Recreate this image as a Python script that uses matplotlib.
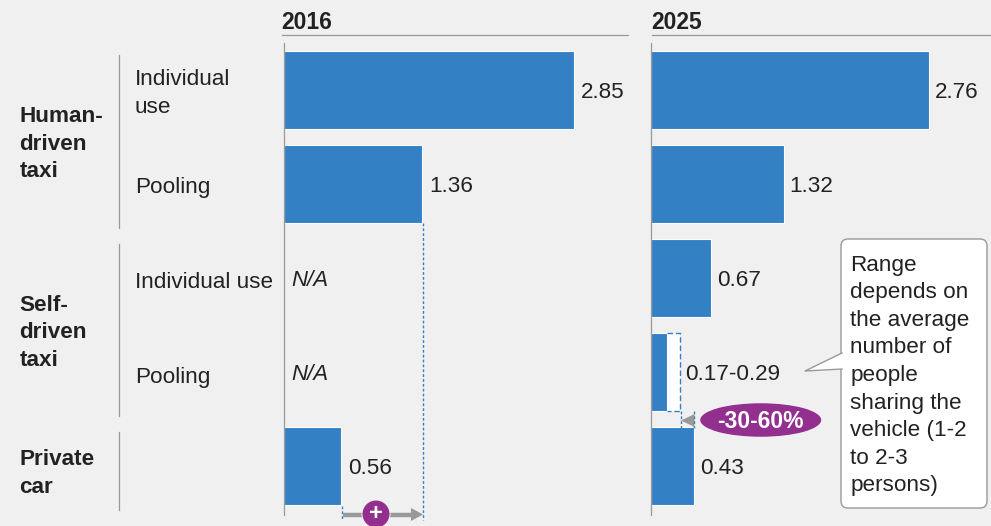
import matplotlib
matplotlib.use('Agg')
import matplotlib.pyplot as plt
from matplotlib.patches import Ellipse, FancyBboxPatch, Polygon, Circle

plt.rcParams['font.family'] = ['Liberation Sans', 'DejaVu Sans']

# data
rows = [0, 1, 2, 3, 4]
values_2016 = [2.85, 1.36, None, None, 0.56]
# the 0.67 bar is drawn shorter than its label in the original, about 0.60
values_2025 = [2.76, 1.32, 0.60, 0.16, 0.43]
range_high_2025 = 0.29
labels_2016 = ['2.85', '1.36', 'N/A', 'N/A', '0.56']
labels_2025 = ['2.76', '1.32', '0.67', '0.17-0.29', '0.43']
row_labels = ['Individual\nuse', 'Pooling', 'Individual use', 'Pooling', '']
groups = ['Human-\ndriven\ntaxi', 'Self-\ndriven\ntaxi', 'Private\ncar']

BG = '#f0f0f0'
BLUE = '#3480c5'
PURPLE = '#93308f'
GREY = '#999999'
TEXT = '#222222'
W, H = 991, 526
ROW_Y = 90.0
ROW_STEP = 94.0

fig = plt.figure(figsize=(W / 100, H / 100), dpi=100, facecolor=BG)


def make_axes(x0, x1, px_per_unit):
    # y runs in row numbers, x in the chart's values
    top, bottom = 43, 515
    ax = fig.add_axes([x0 / W, 1 - bottom / H, (x1 - x0) / W, (bottom - top) / H])
    ax.set_xlim(0, (x1 - x0) / px_per_unit)
    ax.set_ylim((bottom - ROW_Y) / ROW_STEP, (top - ROW_Y) / ROW_STEP)
    ax.axis('off')
    ax.patch.set_alpha(0)
    return ax


ax16 = make_axes(284, 628, 101.75)
ax25 = make_axes(650.5, 985, 101.0)

for ax, values, labels in [(ax16, values_2016, labels_2016), (ax25, values_2025, labels_2025)]:
    for r, v, lab in zip(rows, values, labels):
        if v is None:
            ax.text(0.07, r + 0.03, lab, style='italic', fontsize=16, color=TEXT, va='center', ha='left')
            continue
        ax.barh(r, v, height=0.82, color=BLUE, edgecolor='white', linewidth=0.8, zorder=3)

for r, v, lab in zip(rows, values_2016, labels_2016):
    if v is not None:
        ax16.annotate(lab, (v, r), xytext=(4.8, -2), textcoords='offset points', fontsize=16.2,
                      color=TEXT, va='center', ha='left')
for r, v, lab in zip(rows, values_2025, labels_2025):
    xv = range_high_2025 if r == 3 else v
    ax25.annotate(lab, (xv, r), xytext=(4.2, -2), textcoords='offset points', fontsize=16.2,
                  color=TEXT, va='center', ha='left')

# range part of the pooling bar
ax25.barh(3, range_high_2025 - values_2025[3], left=values_2025[3], height=0.82, color='white',
          edgecolor='none', zorder=2)
ax25.plot([values_2025[3], range_high_2025, range_high_2025, values_2025[3]],
          [3 - 0.41, 3 - 0.41, 3 + 0.41, 3 + 0.41], color=BLUE, lw=1, ls=(0, (4, 2)), zorder=4)

# overlay in pixels for the decorations
ov = fig.add_axes([0, 0, 1, 1], zorder=5)
ov.set_xlim(0, W)
ov.set_ylim(H, 0)
ov.axis('off')
ov.patch.set_alpha(0)

ov.text(281.5, 22.5, '2016', fontsize=16.5, fontweight='bold', color=TEXT, va='center', ha='left')
ov.text(651.5, 22.5, '2025', fontsize=16.5, fontweight='bold', color=TEXT, va='center', ha='left')
ov.plot([282, 628], [35, 35], color=GREY, lw=0.9)
ov.plot([652, 991], [35, 35], color=GREY, lw=0.9)
ov.plot([284, 284], [43, 515], color=GREY, lw=0.9)
ov.plot([650.5, 650.5], [43, 515], color=GREY, lw=0.9)

# left labels
for (a, b) in [(55, 228), (244, 416), (432, 510)]:
    ov.plot([119, 119], [a, b], color=GREY, lw=0.9)
for y, g in zip([144, 333, 473.5], groups):
    ov.text(19.5, y, g, fontsize=16.2, fontweight='bold', color=TEXT, va='center', ha='left', linespacing=1.39)
for y, lab in zip([93.5, 188, 282, 378, 466], row_labels):
    ov.text(135, y, lab, fontsize=16.2, color=TEXT, va='center', ha='left', linespacing=1.39)

# dotted guides and the 2016 arrow
ov.plot([423, 423], [223, 520], color=BLUE, lw=1, ls=(0, (2, 1.5)))
ov.plot([342, 342], [506, 520], color=BLUE, lw=1, ls=(0, (2, 1.5)))
ov.plot([343, 412], [514.5, 514.5], color=GREY, lw=3.2, solid_capstyle='butt')
ov.add_patch(Polygon([[411, 508], [423, 514.5], [411, 521]], closed=True, fc=GREY, ec='none'))
ov.add_patch(Circle((376, 514), 14.5, fc=BG, ec='none', zorder=6))
ov.add_patch(Circle((376, 514), 13.5, fc=PURPLE, ec='none', zorder=7))
ov.text(376, 513.5, '+', fontsize=17, fontweight='bold', color='white', va='center', ha='center', zorder=8)

# 2025 reduction marker
ov.plot([680.7, 680.7], [411, 428], color=BLUE, lw=1, ls=(0, (2, 1.5)))
ov.plot([694, 694], [411, 428], color=BLUE, lw=1, ls=(0, (2, 1.5)))
ov.add_patch(Polygon([[681, 420.5], [694.5, 414], [694.5, 427]], closed=True, fc=GREY, ec='none'))
ov.add_patch(Ellipse((760.7, 420), 121, 33.5, fc=PURPLE, ec='none'))
ov.text(760.7, 421.5, '-30-60%', fontsize=16.5, fontweight='bold', color='white', va='center', ha='center')

# callout
ov.add_patch(FancyBboxPatch((845, 243), 138, 261, boxstyle='round,pad=4,rounding_size=7',
                            fc='white', ec=GREY, lw=1))
ov.add_patch(Polygon([[805, 371], [842, 353], [842, 369]], closed=True, fc='white', ec='none', zorder=3))
ov.plot([842, 805, 842], [353, 371, 369], color=GREY, lw=1, zorder=4)
ov.text(850.5, 375.5, 'Range\ndepends on\nthe average\nnumber of\npeople\nsharing the\nvehicle (1-2\nto 2-3\npersons)',
        fontsize=16.2, color=TEXT, va='center', ha='left', linespacing=1.41, zorder=5)

fig.savefig('out.png', dpi=100, facecolor=BG)
